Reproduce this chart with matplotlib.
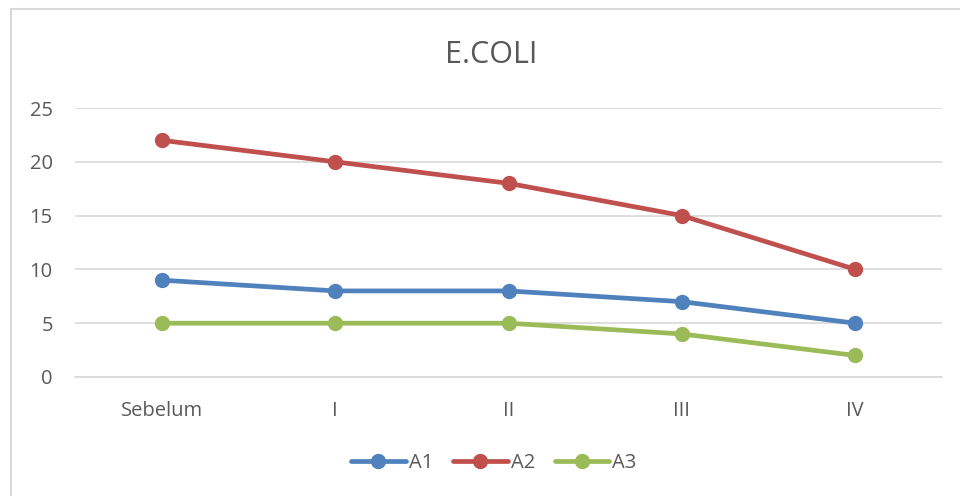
import matplotlib
matplotlib.use("Agg")
import matplotlib.pyplot as plt
from matplotlib.patches import Rectangle

plt.rcParams['font.family'] = ['Open Sans', 'DejaVu Sans']

categories = ["Sebelum", "I", "II", "III", "IV"]
a1 = [9, 8, 8, 7, 5]
a2 = [22, 20, 18, 15, 10]
a3 = [5, 5, 5, 4, 2]
series = [("A1", a1, "#4F81BD"), ("A2", a2, "#C0504D"), ("A3", a3, "#9BBB59")]

fig = plt.figure(figsize=(9.6, 4.96), dpi=100)
fig.patches.append(Rectangle((11 / 960, -0.1), 1.2, 1 - 9 / 496 + 0.1,
                             transform=fig.transFigure, fill=False,
                             edgecolor="#D9D9D9", linewidth=1.5))

ax = fig.add_axes([75 / 960, 1 - 377 / 496, (942 - 75) / 960, (377 - 108) / 496])
x = list(range(len(categories)))
for name, vals, color in series:
    ax.plot(x, vals, color=color, linewidth=3.4, marker="o", markersize=10,
            solid_capstyle="round", label=name)

ax.set_xlim(-0.5, len(categories) - 0.5)
ax.set_ylim(0, 25)
ax.set_yticks([0, 5, 10, 15, 20, 25])
ax.set_xticks(x)
ax.set_xticklabels(categories)
ax.grid(axis="y", color="#D9D9D9", linewidth=1.2)
ax.set_axisbelow(True)
for s in ["top", "right", "left"]:
    ax.spines[s].set_visible(False)
ax.spines["bottom"].set_color("#D9D9D9")
ax.spines["bottom"].set_linewidth(1.2)
ax.tick_params(axis="both", length=0, labelsize=14.5, labelcolor="#595959")
ax.tick_params(axis="y", pad=16)
ax.tick_params(axis="x", pad=17)

fig.text(491 / 960, 1 - 55 / 496, "E.COLI", ha="center", va="center",
         fontsize=22, color="#595959")

fig.legend(loc="center", bbox_to_anchor=(494 / 960, 1 - 463 / 496), ncol=3,
           frameon=False, fontsize=14.5, labelcolor="#595959",
           handlelength=2.7, columnspacing=1.0, handletextpad=0.15)

fig.savefig("out.png", dpi=100)
